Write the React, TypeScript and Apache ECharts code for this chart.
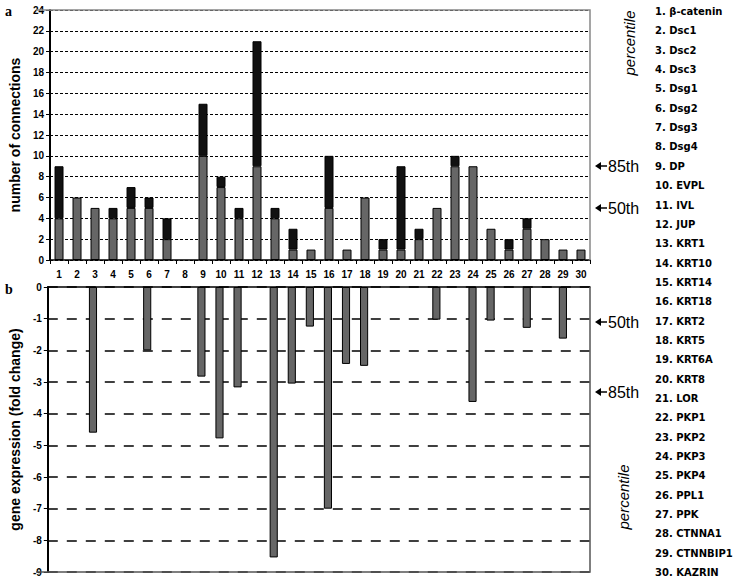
import React, { useEffect, useRef } from "react";
import * as echarts from "echarts";

const geneNames = [
  "β-catenin", "Dsc1", "Dsc2", "Dsc3", "Dsg1", "Dsg2", "Dsg3", "Dsg4", "DP", "EVPL",
  "IVL", "JUP", "KRT1", "KRT10", "KRT14", "KRT18", "KRT2", "KRT5", "KRT6A", "KRT8",
  "LOR", "PKP1", "PKP2", "PKP3", "PKP4", "PPL1", "PPK", "CTNNA1", "CTNNBIP1", "KAZRIN",
];
const categories = geneNames.map((_, i) => String(i + 1));

// panel a: number of connections (grey part + black part, stacked)
const connectionsGrey = [4, 6, 5, 4, 5, 5, 2, 0, 10, 7, 4, 9, 4, 1, 1, 5, 1, 6, 1, 1, 2, 5, 9, 9, 3, 1, 3, 2, 1, 1];
const connectionsBlack = [5, 0, 0, 1, 2, 1, 2, 0, 5, 1, 1, 12, 1, 2, 0, 5, 0, 0, 1, 8, 1, 0, 1, 0, 0, 1, 1, 0, 0, 0];

// panel b: gene expression (fold change); null = no bar
const foldChange: (number | null)[] = [
  null, null, -4.6, null, null, -2.0, null, null, -2.83, -4.78,
  -3.17, null, -8.54, -3.05, -1.25, -7.0, -2.43, -2.49, null, null,
  null, -1.03, null, -3.63, -1.06, null, -1.29, null, -1.63, null,
];

const topTicks = { min: 0, max: 24, interval: 2 };
const bottomTicks = { min: -9, max: 0, interval: 1 };

const GREY = "#666666";
const BLACK = "#111111";
const FONT = "'Liberation Sans', Arial, sans-serif";

export default function App() {
  const ref = useRef<HTMLDivElement>(null);
  useEffect(() => {
    if (!ref.current) return;
    const chart = echarts.init(ref.current, undefined, { renderer: "svg" });
    const nz = (v: number) => (v === 0 ? "-" : v);

    const L = 36, R = 590;
    const topT = 10, topB = 260, botT = 287, botB = 572;

    const legendTexts = geneNames.map((g, i) => ({
      type: "text",
      x: 655,
      y: 11.5 + i * 19.35,
      style: {
        text: `${i + 1}. ${g}`,
        fontFamily: "'DejaVu Sans', Verdana, sans-serif",
        fontWeight: "bold",
        fontSize: 10,
        fill: "#000",
        textVerticalAlign: "middle",
      },
    }));

    const arrow = (y: number, label: string) => ({
      type: "group",
      children: [
        { type: "polygon", shape: { points: [[595, y], [601, y - 4], [601, y + 4]] }, style: { fill: "#000" } },
        { type: "line", shape: { x1: 600, y1: y, x2: 607, y2: y }, style: { stroke: "#000", lineWidth: 1.5 } },
        {
          type: "text", x: 608, y,
          style: { text: label, fontFamily: FONT, fontSize: 16, fill: "#000", textVerticalAlign: "middle" },
        },
      ],
    });

    const option: any = {
      animation: false,
      backgroundColor: "#fff",
      grid: [
        { left: L, top: topT, width: R - L, height: topB - topT },
        { left: L, top: botT, width: R - L, height: botB - botT },
      ],
      xAxis: [
        {
          type: "category", gridIndex: 0, data: categories,
          axisLine: { lineStyle: { color: "#000", width: 1.5 } },
          axisTick: { show: true, alignWithLabel: false, length: 4, lineStyle: { color: "#000" } },
          axisLabel: { color: "#000", fontFamily: FONT, fontWeight: "bold", fontSize: 10, margin: 9, interval: 0 },
        },
        {
          type: "category", gridIndex: 1, data: categories,
          axisLine: { onZero: true, lineStyle: { color: "#000", width: 1.5 } },
          axisTick: { show: false },
          axisLabel: { show: false },
        },
      ],
      yAxis: [
        {
          type: "value", gridIndex: 0, ...topTicks,
          name: "number of connections", nameLocation: "middle", nameGap: 24,
          nameTextStyle: { fontFamily: FONT, fontWeight: "bold", fontSize: 14, color: "#000" },
          axisLine: { show: true, lineStyle: { color: "#000", width: 2 } },
          axisTick: { show: true, length: 4, lineStyle: { color: "#000" } },
          axisLabel: { color: "#000", fontFamily: FONT, fontWeight: "bold", fontSize: 10, margin: 6 },
          splitLine: { show: true, lineStyle: { color: "#000", type: [3, 2], width: 1 } },
        },
        {
          type: "value", gridIndex: 1, ...bottomTicks,
          name: "gene expression (fold change)", nameLocation: "middle", nameGap: 24,
          nameTextStyle: { fontFamily: FONT, fontWeight: "bold", fontSize: 14, color: "#000" },
          axisLine: { show: true, lineStyle: { color: "#000", width: 2 } },
          axisTick: { show: true, length: 4, lineStyle: { color: "#000" } },
          axisLabel: { color: "#000", fontFamily: FONT, fontWeight: "bold", fontSize: 10, margin: 6 },
          splitLine: { show: true, lineStyle: { color: "#000", type: [10, 9], width: 1.5 } },
        },
      ],
      series: [
        {
          type: "bar", xAxisIndex: 0, yAxisIndex: 0, stack: "c", barWidth: "50%",
          data: connectionsGrey.map(nz),
          itemStyle: { color: GREY, borderColor: "#000", borderWidth: 1 },
        },
        {
          type: "bar", xAxisIndex: 0, yAxisIndex: 0, stack: "c", barWidth: "50%",
          data: connectionsBlack.map(nz),
          itemStyle: { color: BLACK, borderColor: "#000", borderWidth: 1 },
        },
        {
          type: "bar", xAxisIndex: 1, yAxisIndex: 1, barWidth: "45%",
          data: foldChange.map((v) => (v === null ? "-" : v)),
          itemStyle: { color: GREY, borderColor: "#000", borderWidth: 1 },
        },
      ],
      graphic: [
        // frame edges
        { type: "polyline", z: 100, shape: { points: [[L, topT], [R, topT], [R, topB]] }, style: { stroke: "#888", lineWidth: 1.5, fill: null } },
        { type: "polyline", z: 100, shape: { points: [[R, botT], [R, botB], [L, botB]] }, style: { stroke: "#555", lineWidth: 1.5, fill: null } },
        // panel letters
        { type: "text", x: 5, y: 11, style: { text: "a", fontFamily: "'Liberation Serif', serif", fontWeight: "bold", fontSize: 14, fill: "#000", textVerticalAlign: "middle" } },
        { type: "text", x: 5, y: 289, style: { text: "b", fontFamily: "'Liberation Serif', serif", fontWeight: "bold", fontSize: 14, fill: "#000", textVerticalAlign: "middle" } },
        // percentile labels
        { type: "text", x: 629, y: 43, rotation: Math.PI / 2, style: { text: "percentile", fontFamily: FONT, fontStyle: "italic", fontSize: 15, fill: "#000", textAlign: "center", textVerticalAlign: "middle" } },
        { type: "text", x: 623, y: 497, rotation: Math.PI / 2, style: { text: "percentile", fontFamily: FONT, fontStyle: "italic", fontSize: 15, fill: "#000", textAlign: "center", textVerticalAlign: "middle" } },
        arrow(166, "85th"),
        arrow(208, "50th"),
        arrow(322, "50th"),
        arrow(392, "85th"),
        ...legendTexts,
      ],
    };
    chart.setOption(option);
    return () => chart.dispose();
  }, []);
  return <div ref={ref} style={{ width: 738, height: 581, position: "absolute", left: 0, top: 0 }} />;
}
